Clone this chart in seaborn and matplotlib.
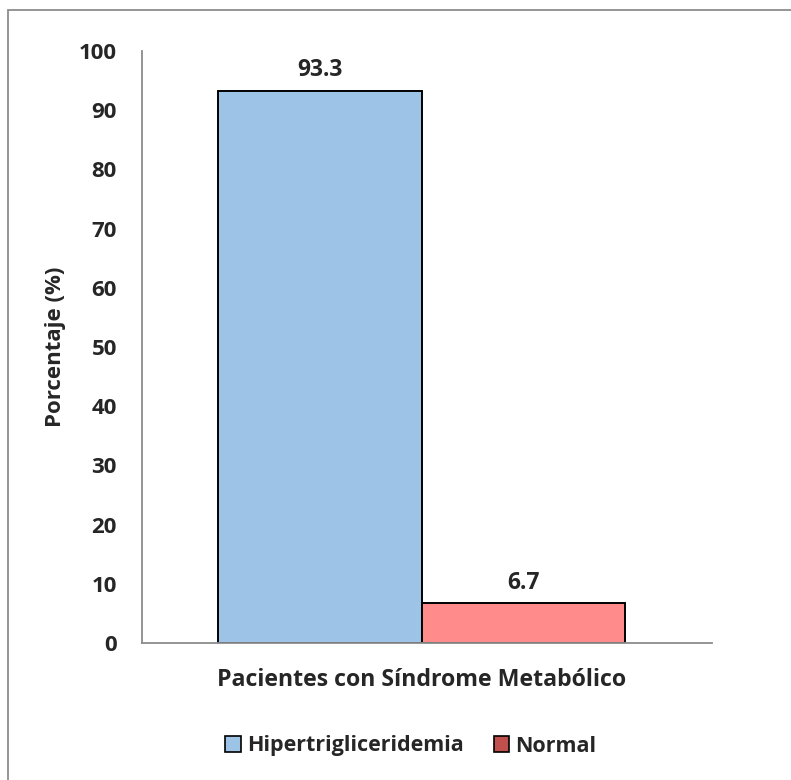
import matplotlib
matplotlib.use("Agg")
import matplotlib.pyplot as plt
from matplotlib.patches import Patch, Rectangle
import seaborn as sns
import pandas as pd

# Datos
categoria = ["Pacientes con Síndrome Metabólico"]
grupos = ["Hipertrigliceridemia", "Normal"]
porcentajes = [93.3, 6.7]
yticks = [0, 10, 20, 30, 40, 50, 60, 70, 80, 90, 100]

colores_barras = ["#9DC3E6", "#FF8B8B"]
colores_leyenda = ["#9DC3E6", "#C0504D"]

sns.set_theme(style="white")
plt.rcParams["font.family"] = ["Open Sans", "DejaVu Sans"]
plt.rcParams["font.weight"] = "bold"

df = pd.DataFrame({
    "categoria": categoria * len(grupos),
    "grupo": grupos,
    "porcentaje": porcentajes,
})

fig = plt.figure(figsize=(7.91, 7.80), dpi=100)
ax = fig.add_axes([142 / 791, 1 - 643 / 780, (712 - 142) / 791, (643 - 51) / 780])

sns.barplot(data=df, x="categoria", y="porcentaje", hue="grupo",
            palette=colores_barras, width=0.715, edgecolor="black",
            linewidth=1.4, ax=ax, legend=False, saturation=1)

for cont in ax.containers:
    ax.bar_label(cont, fmt="%.1f", padding=6, fontsize=16.5, fontweight="bold")

ax.set_ylim(0, 100)
ax.set_xlim(-0.4905, 0.5095)
ax.set_yticks(yticks)
ax.set_ylabel("Porcentaje (%)", fontsize=16, fontweight="bold", labelpad=9)
ax.set_xlabel("")
ax.tick_params(axis="y", length=0, pad=18, labelsize=16)
ax.tick_params(axis="x", length=0, pad=18, labelsize=16.7)
for lab in ax.get_xticklabels() + ax.get_yticklabels():
    lab.set_fontweight("bold")

for side in ["top", "right"]:
    ax.spines[side].set_visible(False)
for side in ["left", "bottom"]:
    ax.spines[side].set_color("#8C8C8C")
    ax.spines[side].set_linewidth(1.3)

handles = [Patch(facecolor=c, edgecolor="black", linewidth=1.2, label=g)
           for c, g in zip(colores_leyenda, grupos)]
fig.legend(handles=handles, loc="center", bbox_to_anchor=(411 / 791, 1 - 746 / 780),
           ncol=2, frameon=False, handlelength=0.7, handleheight=0.7,
           handletextpad=0.3, columnspacing=1.4,
           prop={"size": 15.5, "weight": "bold"})

# Marco exterior
fig.patches.append(Rectangle((8 / 791, -0.05), 1.2, 1 - 10 / 780 + 0.05,
                             transform=fig.transFigure, fill=False,
                             edgecolor="#8C8C8C", linewidth=1.3))

fig.savefig("out.png", dpi=100)
